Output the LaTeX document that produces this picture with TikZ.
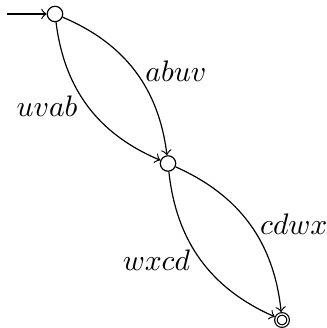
\documentclass[tikz,border=0pt]{standalone}
\usepackage{amsmath}
\usepackage{tikz}

\begin{document}
\begin{tikzpicture}[x=0.337pt, y=0.337pt,
    state/.style={circle, draw, inner sep=0pt, minimum size=5.2pt},
    final/.style={state, double, double distance=0.45pt, minimum size=4.1pt, outer sep=0.62pt}]
    \useasboundingbox (0,0) rectangle (326,328);
    \node [state] (q0) at (55,314) {};
    \node [state] (q1) at (168,164.5) {};
    \node [final] (q2) at (282,8) {};
    \coordinate (start) at (7,314);
    \draw [->] (start) -- (q0);
    \draw [->] (q0) to[bend left=30] node[right]{$abuv$} (q1);
    \draw [->] (q0) to[bend right=30] node[left]{$uvab$} (q1);
    \draw [->] (q1) to[bend left=30] node[right]{$cdwx$} (q2);
    \draw [->] (q1) to[bend right=30] node[left]{$wxcd$} (q2);
\end{tikzpicture}
\end{document}
